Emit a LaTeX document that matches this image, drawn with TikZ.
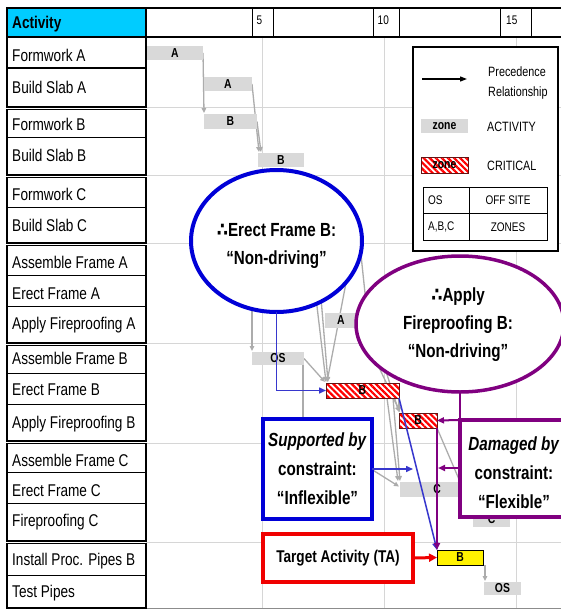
\documentclass[tikz,border=0pt]{standalone}
\usepackage{fontspec}
\setmainfont{Liberation Sans}[FakeStretch=0.8]
\newfontfamily\dejav{DejaVu Sans}[FakeStretch=0.85]
\usetikzlibrary{shapes.geometric,arrows.meta,patterns.meta}
\pgfdeclarelayer{bg}
\pgfdeclarelayer{lines}
\pgfsetlayers{bg,lines,main}
\definecolor{headcyan}{RGB}{0,204,255}
\definecolor{barg}{RGB}{217,217,217}
\definecolor{gridg}{RGB}{214,214,214}
\definecolor{precg}{RGB}{172,172,172}
\definecolor{ellblue}{RGB}{0,0,215}
\definecolor{lnblue}{RGB}{55,55,205}
\definecolor{purp}{RGB}{128,0,128}
\definecolor{tared}{RGB}{240,0,0}
\definecolor{critedge}{RGB}{100,20,20}
\newcommand\thf{{\dejav\bfseries ∴}}
\tikzset{
  gridln/.style={draw=gridg, line width=0.8pt},
  lab/.style={anchor=base west, inner sep=0pt, font=\fontsize{17}{20}\selectfont},
  grp/.style={draw=black, line width=1.8pt},
  rowsep/.style={draw=black, line width=1pt},
  gbar/.style={fill=barg, inner sep=0pt, outer sep=0pt, font=\bfseries\fontsize{13}{13}\selectfont},
  crit/.style={draw=critedge, line width=0.8pt, inner sep=0pt, outer sep=0pt,
    preaction={fill=white}, pattern={Lines[angle=-45,distance=4.3pt,line width=2.2pt]},
    pattern color=red, font=\bfseries\fontsize{13}{13}\selectfont},
  tabar/.style={fill=yellow, draw=black, line width=0.8pt, inner sep=0pt, outer sep=0pt,
    font=\bfseries\fontsize{13}{13}\selectfont},
  prec/.style={draw=precg, line width=1.3pt, -{Triangle[length=5pt,width=4.5pt]}},
  precn/.style={draw=precg, line width=1.3pt},
  bigtxt/.style={align=center, inner sep=0pt, font=\bfseries\fontsize{19}{28}\selectfont},
  boxtxt/.style={align=center, inner sep=0pt, font=\bfseries\fontsize{19}{29}\selectfont},
  bluearr/.style={draw=lnblue, line width=1.5pt, -{Triangle[length=7pt,width=6pt]}},
  purparr/.style={draw=purp, line width=2pt, -{Triangle[length=7pt,width=6pt]}},
  redarr/.style={draw=tared, line width=3pt, -{Triangle[length=8pt,width=8pt]}},
  legtxt/.style={anchor=west, inner sep=0pt, align=left, font=\fontsize{13.5}{20}\selectfont},
  tabtxt/.style={inner sep=0pt, font=\fontsize{12.5}{14}\selectfont},
}
\begin{document}
\begin{tikzpicture}[x=1pt,y=-1pt]
\useasboundingbox (0,0) rectangle (561,610);
% background and grid
\begin{pgfonlayer}{bg}
  \fill[white] (0,0) rectangle (561,610);
  \foreach \gx in {262.5,384,516} \draw[gridln] (\gx,37) -- (\gx,608);
  \foreach \gy in {107,175,243,343,443,542} \draw[gridln] (146,\gy) -- (561,\gy);
  \draw[draw=black!45, line width=1pt] (146,608) -- (561,608);
\end{pgfonlayer}
% header
\fill[headcyan] (7,8) rectangle (146,37);
\draw[line width=2pt] (7,8) rectangle (575,37);
\draw[line width=2pt] (146,8) -- (146,37);
\foreach \hx in {252,273,373,399,500,531} \draw[line width=1pt] (\hx,8) -- (\hx,37);
\node[anchor=base west, inner sep=0pt, font=\bfseries\fontsize{17}{20}\selectfont] (acth) at (12,29) {Activity};
\node[anchor=base west, inner sep=0pt, font=\fontsize{12.5}{14}\selectfont] (h5) at (256.5,25) {5};
\node[anchor=base west, inner sep=0pt, font=\fontsize{12.5}{14}\selectfont] (h10) at (377.5,25) {10};
\node[anchor=base west, inner sep=0pt, font=\fontsize{12.5}{14}\selectfont] (h15) at (506,25) {15};
% left column groups
\draw[grp] (7,37) rectangle (146,107);
\draw[grp] (7,109.5) rectangle (146,175);
\draw[grp] (7,177.5) rectangle (146,243);
\draw[grp] (7,245.5) rectangle (146,343);
\draw[grp] (7,345.5) rectangle (146,441);
\draw[grp] (7,443.5) rectangle (146,541);
\draw[grp] (7,543.5) rectangle (146,608);
\foreach \ry in {68,137,207,275,306,373,404,472,503,575} \draw[rowsep] (7,\ry) -- (146,\ry);
\foreach \nm/\yy/\tx in {fwa/56/Formwork A, bsa/87/Build Slab A, fwb/124/Formwork B, bsb/155/Build Slab B,
  fwc/194/Formwork C, bsc/225/Build Slab C, afa/262/Assemble Frame A, efa/293/Erect Frame A,
  apa/323/Apply Fireproofing A, afb/358/Assemble Frame B, efb/389/Erect Frame B,
  apb/422/Apply Fireproofing B, afc/460/Assemble Frame C, efc/490/Erect Frame C,
  fpc/520/Fireproofing C, ipb/559/Install Proc. Pipes B, tp/591/Test Pipes}
  \node[lab] (lab-\nm) at (12,\yy+6) {\tx};
% bars
\node[gbar, minimum width=56pt, minimum height=14pt] (b1) at (175,53) {A};
\node[gbar, minimum width=48pt, minimum height=14pt] (b2) at (228,84) {A};
\node[gbar, minimum width=53pt, minimum height=15pt] (b3) at (230.5,121.5) {B};
\node[gbar, minimum width=46pt, minimum height=14pt] (b4) at (281,160) {B};
\node[gbar, minimum width=32pt, minimum height=15pt] (b5) at (341,320.5) {A};
\node[gbar, minimum width=52pt, minimum height=13pt] (b6) at (278,358.5) {OS};
\node[crit, minimum width=73pt, minimum height=15pt] (b7) at (362.5,390.5) {B};
\node[crit, minimum width=38pt, minimum height=15pt] (b8) at (418,420.5) {B};
\node[gbar, minimum width=74pt, minimum height=15pt] (b9) at (437,489.5) {C};
\node[gbar, minimum width=37pt, minimum height=15pt] (b10) at (491.5,519.5) {C};
\node[tabar, minimum width=46pt, minimum height=15pt] (ta) at (460,557.5) {B};
\node[gbar, minimum width=37pt, minimum height=13pt] (b12) at (502.5,588.5) {OS};
% hidden origins of precedence lines
\coordinate (h1) at (252,300);
\coordinate (h2) at (316,298);
\coordinate (h3) at (321,298);
\coordinate (h4) at (355,236);
\coordinate (h5) at (359,236);
\coordinate (h6) at (367,312);
\coordinate (h7) at (303,440);
\coordinate (h8) at (360,462);
% precedence lines
\begin{pgfonlayer}{lines}
  \draw[prec] (b1.east) -- ([yshift=1pt]b3.north west);
  \draw[prec] (b2.east) -- ([xshift=1pt,yshift=1pt]b4.north west);
  \draw[prec] (b3.east) -- ([xshift=3pt,yshift=1pt]b4.north west);
  \draw[prec] (h1) -- ([yshift=1pt]b6.north west);
  \draw[prec] (h2) -- ([yshift=1pt]b7.north west);
  \draw[prec] (h3) -- ([xshift=2pt,yshift=1pt]b7.north west);
  \draw[prec] (h4) -- ([xshift=1pt,yshift=1pt]b7.north west);
  \draw[precn] (h5) -- (h6);
  \draw[prec] (h6) -- ([yshift=1pt]b8.north west);
  \draw[prec] (b5.east) -- ([xshift=1pt,yshift=1pt]b8.north west);
  \draw[prec] (b6.east) -- ([xshift=-1pt,yshift=1pt]b7.north west);
  \draw[precn] ([xshift=-1pt]b6.south east) -- (h7);
  \draw[prec] (b7.south east) -- ([yshift=1pt]b8.north west);
  \draw[prec] ([xshift=-12pt]b7.south east) -- ([xshift=-2pt,yshift=1pt]b9.north west);
  \draw[prec] ([xshift=-6pt]b7.south east) -- ([yshift=1pt]b9.north west);
  \draw[prec] (h8) -- ([xshift=-1pt,yshift=3pt]b9.west);
  \draw[precn] (b8.south east) -- (b10.north west);
  \draw[prec] ([xshift=2pt]ta.south east) -- ([xshift=1pt,yshift=1pt]b12.north west);
\end{pgfonlayer}
% ellipses
\node[ellipse, draw=ellblue, line width=4pt, fill=white, outer sep=0pt,
  minimum width=171pt, minimum height=142pt] (eb) at (276.5,241) {};
\node[bigtxt] (ebt) at (276.5,246) {\thf Erect Frame B:\\“Non-driving”};
\node[ellipse, draw=purp, line width=3.5pt, fill=white, outer sep=0pt,
  minimum width=208pt, minimum height=136pt] (pe) at (460,324) {};
\node[bigtxt] (pet) at (458,325) {\thf Apply\\Fireproofing B:\\“Non-driving”};
% boxes
\node[draw=ellblue, line width=4pt, fill=white, outer sep=0pt, inner sep=0pt,
  minimum width=109pt, minimum height=100pt, boxtxt] (sb) at (317.5,469)
  {\textit{Supported by}\\constraint:\\“Inflexible”};
\node[draw=purp, line width=4pt, fill=white, outer sep=0pt, inner sep=0pt,
  minimum width=120pt, minimum height=97pt] (pb) at (520,468.5) {};
\node[boxtxt] (pbt) at (514,473) {\textit{Damaged by}\\constraint:\\“Flexible”};
\node[draw=tared, line width=4pt, fill=white, outer sep=0pt, inner sep=0pt,
  minimum width=150pt, minimum height=48pt,
  font=\bfseries\fontsize{17}{20}\selectfont] (tab) at (338,558) {Target Activity (TA)};
% coloured connectors
\coordinate (sbe) at (413,469);
\coordinate (pbe) at (438,468);
\draw[bluearr] (eb.south) |- (b7.west);
\draw[bluearr] (b7.south east) -- (ta.north west);
\draw[bluearr] (sb.east) -- (sbe);
\draw[draw=purp, line width=2.5pt] (pe.south) -- (pb.north west);
\draw[purparr] (pb.north west) -- (b8.east);
\draw[purparr] ([yshift=-48pt]pb.north west) -- (pbe);
\draw[purparr] (b8.south east) -- (ta.north west);
\draw[redarr] (tab.east) -- (ta.west);
% legend
\node[draw=black, line width=2.5pt, fill=white, outer sep=0pt, inner sep=0pt,
  minimum width=145pt, minimum height=204pt] (lg) at (485.5,149) {};
\coordinate (la1) at (422,79);
\coordinate (la2) at (467,79);
\draw[line width=1.2pt, -{Triangle[length=7pt,width=5pt]}] (la1) -- (la2);
\node[legtxt] (lt1) at (488,83) {Precedence\\Relationship};
\node[gbar, minimum width=47pt, minimum height=14pt] (lz1) at (444.5,126) {zone};
\node[legtxt] (lt2) at (487,127) {ACTIVITY};
\node[crit, minimum width=47pt, minimum height=16pt] (lz2) at (444.5,165) {zone};
\node[legtxt] (lt3) at (487,166) {CRITICAL};
\node[draw=black, line width=1pt, inner sep=0pt, outer sep=0pt,
  minimum width=124pt, minimum height=53pt] (ltab) at (485,213.5) {};
\draw[line width=1pt] (469,187) -- (469,240);
\draw[line width=1pt] (423,213) -- (547,213);
\node[tabtxt, anchor=west] (os1) at (428,200) {OS};
\node[tabtxt] (os2) at (508,200) {OFF SITE};
\node[tabtxt, anchor=west] (zn1) at (428,227) {A,B,C};
\node[tabtxt] (zn2) at (508,227) {ZONES};
\end{tikzpicture}
\end{document}
